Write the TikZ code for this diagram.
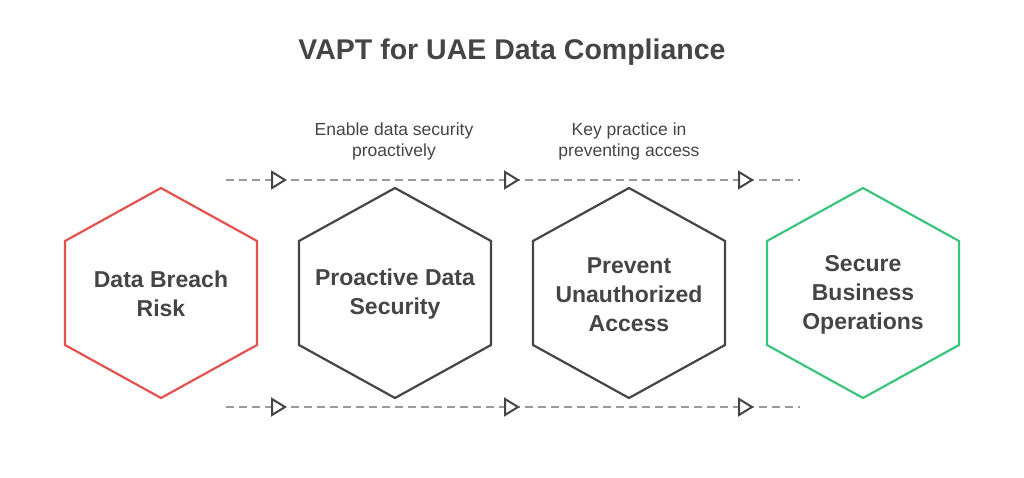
\documentclass[tikz,border=0pt]{standalone}
\usepackage{fontspec}
\setmainfont{Liberation Sans}
\usetikzlibrary{positioning}

\definecolor{risk}{HTML}{E2534F}
\definecolor{safe}{HTML}{3BC47E}
\definecolor{ink}{HTML}{454545}
\definecolor{dashgray}{HTML}{9A9A9A}

\tikzset{
  hexa/.style={line width=2.2pt, line join=miter},
  hextext/.style={align=center, font=\fontsize{23}{29}\selectfont\bfseries, text=ink},
  note/.style={align=center, font=\fontsize{17.5}{21}\selectfont, text=ink},
  flow/.style={dashgray, line width=2pt, dash pattern=on 8pt off 5pt},
  tip/.style={draw=ink, fill=white, line width=2pt, line join=miter}
}

\newcommand{\hexat}[3]{% center x, center y, colour
  \draw[hexa, #3] (#1,#2) ++(0,-105) -- ++(96,53) -- ++(0,104) -- ++(-96,53)
    -- ++(-96,-53) -- ++(0,-104) -- cycle;
}
\newcommand{\tipat}[1]{%
  \draw[tip] (#1) ++(-7,-8) -- ++(13,8) -- ++(-13,8) -- cycle;
}

\begin{document}
\begin{tikzpicture}[x=1pt, y=-1pt]
  \useasboundingbox[fill=white] (0,0) rectangle (1024,478);

  \node[font=\fontsize{28.5}{32}\selectfont\bfseries, text=ink] (title) at (512,52) {VAPT for UAE Data Compliance};

  % dashed tracks above and below the hexagons
  \coordinate (topL) at (226,180);
  \coordinate (topR) at (800,180);
  \coordinate (botL) at (226,407);
  \coordinate (botR) at (800,407);
  \draw[flow] (topL) -- (topR);
  \draw[flow] (botL) -- (botR);
  \foreach \x in {279, 512, 746} {
    \coordinate (t\x) at (\x,180);
    \coordinate (b\x) at (\x,407);
    \tipat{t\x}
    \tipat{b\x}
  }

  % hexagons
  \hexat{161}{293}{risk}
  \hexat{395}{293}{ink}
  \hexat{629}{293}{ink}
  \hexat{863}{293}{safe}

  \node[hextext] (breach) at (161,294) {Data Breach\\Risk};
  \node[hextext] (proactive) at (395,294) {Proactive Data\\Security};
  \node[hextext] (prevent) at (629,295) {Prevent\\Unauthorized\\Access};
  \node[hextext] (secure) at (863,295) {Secure\\Business\\Operations};

  \node[note] (enable) at (394,141) {Enable data security\\proactively};
  \node[note] (practice) at (629,141) {Key practice in\\preventing access};
\end{tikzpicture}
\end{document}
